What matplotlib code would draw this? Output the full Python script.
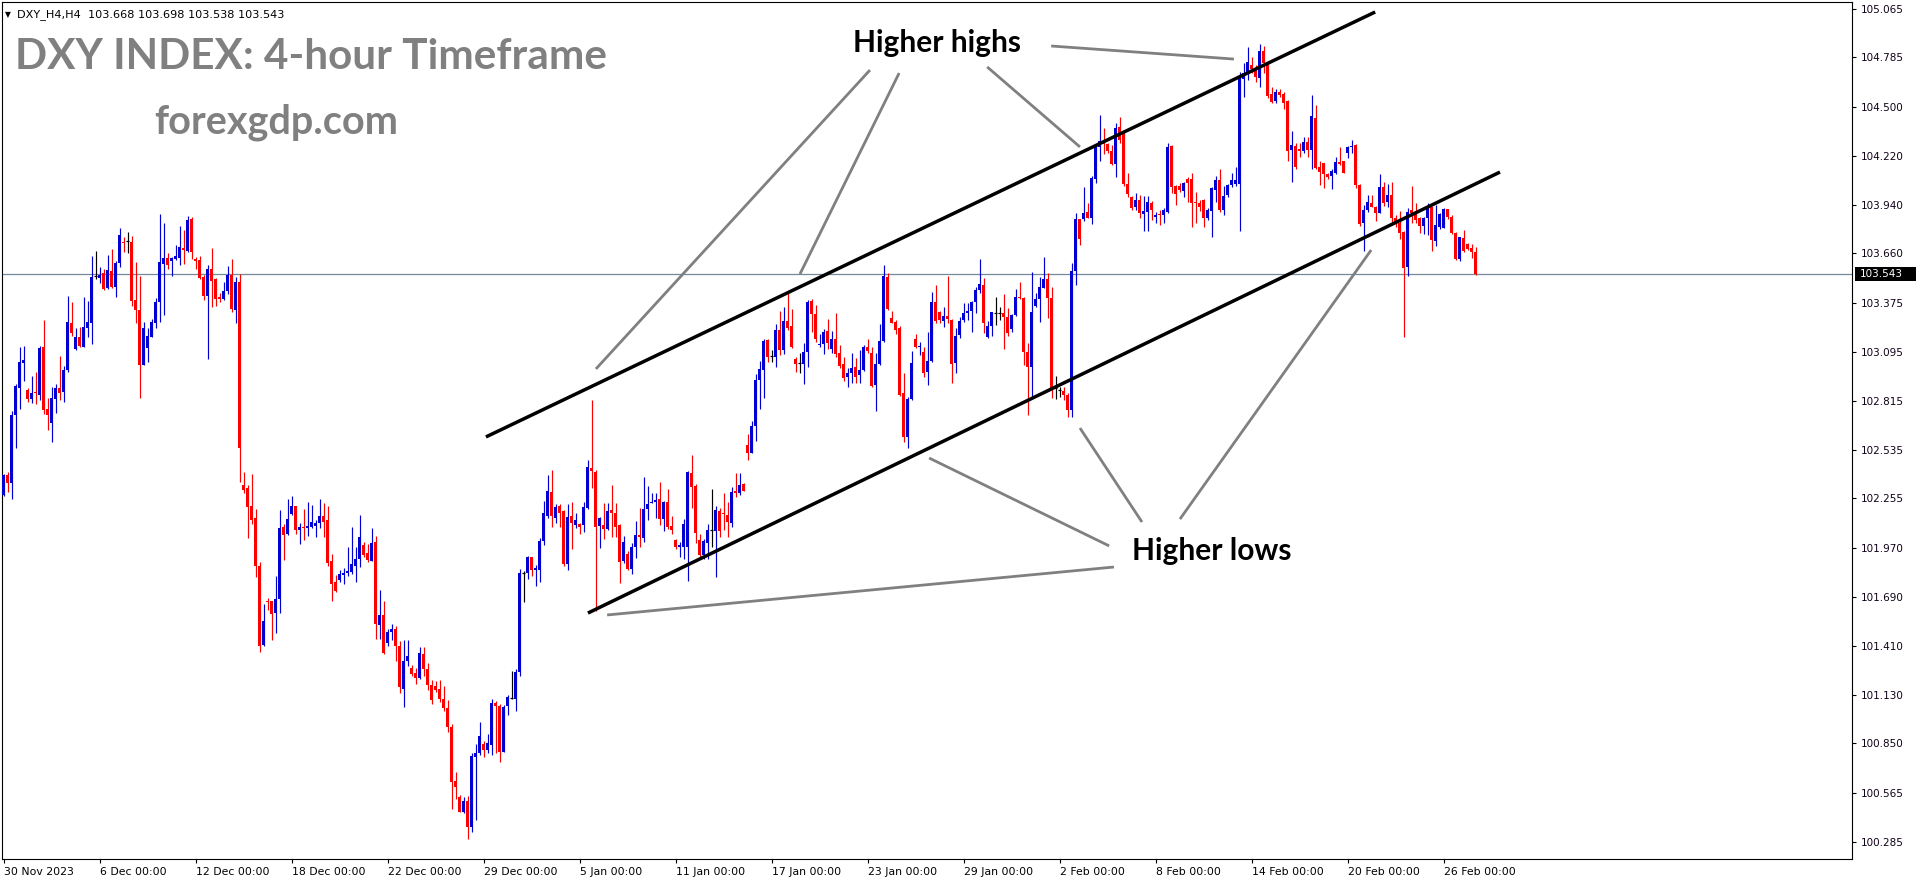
import numpy as np
import matplotlib.pyplot as plt
from matplotlib.patches import Rectangle

# DXY H4 candles (oldest first)
opens = [
    102.276, 102.388, 102.342, 102.734, 102.891, 103.034, 102.878, 102.826, 102.862, 102.849,
    103.124, 102.769, 102.690, 102.826, 102.889, 102.866, 102.992, 103.262, 103.113, 103.183,
    103.126, 103.235, 103.262, 103.529, 103.522, 103.548, 103.462, 103.560, 103.468, 103.608,
    103.726, 103.730, 103.726, 103.394, 103.336, 103.023, 103.118, 103.183, 103.262, 103.382,
    103.602, 103.634, 103.619, 103.629, 103.634, 103.692, 103.675, 103.858, 103.629, 103.623,
    103.526, 103.417, 103.571, 103.514, 103.411, 103.399, 103.445, 103.537, 103.336, 103.497,
    102.333, 102.316, 102.212, 102.144, 101.868, 101.415, 101.668, 101.668, 101.599, 101.679,
    102.092, 102.052, 102.167, 102.212, 102.075, 102.091, 102.083, 102.089, 102.097, 102.116,
    102.155, 102.132, 101.897, 101.776, 101.788, 101.819, 101.829, 101.833, 101.868, 101.907,
    101.989, 101.944, 101.899, 102.003, 101.532, 101.587, 101.424, 101.489, 101.507, 101.407,
    101.165, 101.323, 101.284, 101.257, 101.223, 101.364, 101.278, 101.188, 101.180, 101.165,
    101.106, 101.055, 100.946, 100.635, 100.545, 100.455, 100.520, 100.369, 100.772, 100.793,
    100.848, 100.813, 100.844, 101.084, 101.067, 100.803, 101.063, 101.112, 101.104, 101.258,
    101.827, 101.829, 101.919, 101.843, 101.847, 102.011, 102.155, 102.292, 102.144, 102.212,
    102.185, 101.882, 102.155, 102.104, 102.110, 102.104, 102.198, 102.431, 102.407, 102.098,
    102.103, 102.079, 102.189, 102.174, 102.103, 101.897, 101.937, 101.849, 101.974, 102.040,
    102.031, 102.195, 102.230, 102.235, 102.251, 102.140, 102.235, 102.100, 102.017, 101.975,
    101.979, 101.979, 102.402, 102.327, 102.017, 101.931, 102.000, 102.073, 102.071, 102.186,
    102.170, 102.159, 102.117, 102.300, 102.285, 102.337, 102.562, 102.518, 102.671, 102.935,
    102.992, 103.164, 103.070, 103.069, 103.222, 103.107, 103.273, 103.245, 103.057, 103.030,
    103.025, 103.097, 103.388, 103.313, 103.136, 103.139, 103.216, 103.115, 103.168, 103.088,
    103.025, 102.950, 102.977, 103.008, 102.965, 102.990, 103.122, 103.088, 102.904, 103.027,
    103.157, 103.527, 103.288, 103.269, 103.235, 102.858, 102.606, 102.826, 103.168, 103.126,
    103.097, 102.979, 103.044, 103.384, 103.325, 103.273, 103.304, 103.279, 103.030, 103.193,
    103.279, 103.317, 103.331, 103.380, 103.451, 103.478, 103.179, 103.245, 103.317, 103.317,
    103.317, 103.294, 103.225, 103.308, 103.413, 103.407, 103.097, 103.011, 103.359, 103.397,
    103.464, 103.512, 103.407, 102.887, 102.877, 102.874, 102.849, 102.763, 103.560, 103.856,
    103.856, 103.900, 103.866, 104.085, 104.273, 104.305, 104.286, 104.250, 104.173, 104.384,
    104.343, 104.057, 103.986, 103.929, 103.967, 103.887, 103.900, 103.952, 103.868, 103.887,
    103.881, 103.900, 104.277, 104.049, 104.047, 104.021, 104.085, 104.085, 103.957, 103.952,
    103.967, 103.866, 103.904, 104.024, 104.082, 103.910, 103.996, 104.051, 104.059, 104.059,
    104.659, 104.693, 104.743, 104.716, 104.665, 104.819, 104.756, 104.575, 104.535, 104.586,
    104.573, 104.535, 104.254, 104.277, 104.259, 104.250, 104.298, 104.254, 104.437, 104.158,
    104.177, 104.114, 104.106, 104.124, 104.185, 104.189, 104.238, 104.269, 104.282, 104.053,
    103.833, 103.910, 103.950, 103.929, 103.894, 104.043, 103.957, 103.998, 103.862, 103.833,
    103.785, 103.585, 103.910, 103.896, 103.862, 103.820, 103.862, 103.929, 103.732, 103.814,
    103.808, 103.913, 103.868, 103.780, 103.627, 103.751, 103.713, 103.690, 103.668,
]
highs = [
    102.395, 102.409, 102.759, 102.914, 103.126, 103.132, 102.887, 102.958, 102.981, 103.132,
    103.279, 102.832, 102.893, 102.912, 103.073, 103.017, 103.417, 103.382, 103.235, 103.239,
    103.411, 103.388, 103.646, 103.675, 103.583, 103.571, 103.652, 103.686, 103.615, 103.806,
    103.757, 103.784, 103.761, 103.613, 103.531, 103.268, 103.233, 103.285, 103.407, 103.887,
    103.835, 103.663, 103.638, 103.709, 103.818, 103.795, 103.875, 103.870, 103.640, 103.646,
    103.537, 103.594, 103.692, 103.518, 103.434, 103.497, 103.589, 103.629, 103.526, 103.543,
    102.407, 102.333, 102.396, 102.195, 101.891, 101.651, 101.685, 101.668, 101.811, 102.190,
    102.109, 102.253, 102.270, 102.212, 102.115, 102.196, 102.234, 102.218, 102.132, 102.253,
    102.228, 102.212, 101.938, 101.817, 101.845, 101.858, 101.976, 102.091, 101.976, 102.161,
    102.005, 101.995, 102.087, 102.040, 101.731, 101.667, 101.507, 101.536, 101.524, 101.438,
    101.444, 101.444, 101.301, 101.284, 101.401, 101.403, 101.311, 101.215, 101.208, 101.215,
    101.180, 101.100, 100.959, 100.686, 100.557, 100.541, 100.549, 100.793, 100.848, 100.973,
    100.862, 100.905, 101.106, 101.094, 101.079, 101.071, 101.126, 101.268, 101.278, 101.853,
    101.837, 101.927, 101.919, 101.874, 102.026, 102.243, 102.390, 102.419, 102.226, 102.224,
    102.190, 102.224, 102.234, 102.173, 102.114, 102.234, 102.476, 102.820, 102.419, 102.150,
    102.228, 102.228, 102.333, 102.228, 102.109, 102.042, 101.951, 101.998, 102.126, 102.199,
    102.377, 102.327, 102.285, 102.285, 102.350, 102.239, 102.310, 102.155, 102.023, 102.008,
    102.138, 102.415, 102.505, 102.339, 102.052, 102.021, 102.109, 102.312, 102.214, 102.203,
    102.285, 102.237, 102.319, 102.400, 102.400, 102.341, 102.625, 102.700, 102.969, 103.044,
    103.168, 103.168, 103.107, 103.256, 103.331, 103.355, 103.438, 103.340, 103.069, 103.092,
    103.149, 103.394, 103.397, 103.363, 103.199, 103.225, 103.285, 103.216, 103.321, 103.136,
    103.069, 103.002, 103.088, 103.059, 103.107, 103.134, 103.172, 103.126, 103.088, 103.256,
    103.594, 103.546, 103.332, 103.279, 103.245, 102.977, 102.839, 103.103, 103.199, 103.155,
    103.126, 103.212, 103.441, 103.480, 103.333, 103.355, 103.531, 103.283, 103.231, 103.298,
    103.375, 103.375, 103.388, 103.470, 103.627, 103.518, 103.275, 103.327, 103.413, 103.352,
    103.426, 103.346, 103.311, 103.455, 103.499, 103.413, 103.145, 103.556, 103.432, 103.527,
    103.642, 103.547, 103.470, 102.960, 102.897, 102.897, 102.858, 103.604, 103.894, 103.860,
    104.040, 103.948, 104.105, 104.282, 104.454, 104.382, 104.296, 104.282, 104.410, 104.441,
    104.368, 104.120, 103.990, 104.005, 103.996, 103.990, 103.990, 103.963, 103.900, 103.910,
    103.919, 104.292, 104.280, 104.053, 104.066, 104.072, 104.097, 104.124, 104.015, 103.967,
    103.971, 103.923, 104.043, 104.106, 104.145, 104.047, 104.059, 104.120, 104.158, 104.703,
    104.754, 104.842, 104.785, 104.739, 104.861, 104.850, 104.760, 104.617, 104.601, 104.601,
    104.586, 104.538, 104.363, 104.292, 104.296, 104.330, 104.330, 104.569, 104.512, 104.193,
    104.181, 104.120, 104.143, 104.212, 104.269, 104.193, 104.278, 104.311, 104.286, 104.057,
    103.938, 103.996, 103.996, 103.934, 104.116, 104.072, 104.057, 104.070, 103.881, 103.904,
    103.789, 103.919, 104.049, 103.948, 103.871, 103.871, 103.948, 103.932, 103.938, 103.890,
    103.919, 103.915, 103.881, 103.785, 103.757, 103.795, 103.719, 103.713, 103.698,
]
lows = [
    102.270, 102.295, 102.253, 102.547, 102.769, 102.929, 102.811, 102.801, 102.797, 102.820,
    102.742, 102.648, 102.581, 102.748, 102.818, 102.811, 102.983, 103.187, 103.107, 103.126,
    103.122, 103.183, 103.141, 103.516, 103.493, 103.451, 103.455, 103.462, 103.411, 103.585,
    103.669, 103.663, 103.359, 103.262, 102.832, 103.020, 103.038, 103.180, 103.235, 103.268,
    103.308, 103.571, 103.531, 103.623, 103.594, 103.600, 103.669, 103.629, 103.571, 103.514,
    103.394, 103.055, 103.354, 103.359, 103.382, 103.394, 103.428, 103.325, 103.262, 102.350,
    102.287, 102.029, 102.109, 101.805, 101.375, 101.410, 101.616, 101.444, 101.484, 101.599,
    101.903, 102.046, 102.161, 102.052, 101.995, 102.017, 102.040, 102.083, 102.036, 102.083,
    102.032, 101.866, 101.669, 101.718, 101.774, 101.767, 101.810, 101.823, 101.774, 101.862,
    101.917, 101.893, 101.895, 101.448, 101.452, 101.366, 101.411, 101.446, 101.325, 101.141,
    101.061, 101.294, 101.237, 101.192, 101.217, 101.237, 101.159, 101.077, 101.145, 101.090,
    101.036, 100.918, 100.477, 100.533, 100.455, 100.451, 100.301, 100.342, 100.414, 100.785,
    100.772, 100.797, 100.783, 100.793, 100.741, 100.801, 101.016, 101.106, 101.038, 101.237,
    101.663, 101.792, 101.813, 101.755, 101.776, 101.991, 102.144, 102.093, 102.114, 102.089,
    101.868, 101.847, 101.968, 102.083, 102.052, 102.062, 102.194, 102.316, 101.612, 101.970,
    102.023, 102.075, 102.037, 102.037, 101.773, 101.887, 101.845, 101.821, 101.912, 101.975,
    102.008, 102.132, 102.228, 102.142, 102.103, 102.071, 102.079, 102.050, 101.964, 101.922,
    101.907, 101.779, 102.199, 102.002, 101.922, 101.907, 101.907, 101.975, 101.803, 102.037,
    102.075, 102.037, 102.090, 102.266, 102.274, 102.296, 102.476, 102.514, 102.585, 102.771,
    102.830, 103.040, 103.040, 103.011, 103.078, 103.082, 103.222, 103.116, 102.983, 102.973,
    102.910, 103.011, 103.208, 103.155, 103.122, 103.084, 103.111, 103.088, 103.065, 103.002,
    102.931, 102.893, 102.916, 102.916, 102.916, 102.986, 103.088, 102.897, 102.759, 103.023,
    103.153, 103.336, 103.260, 103.197, 102.845, 102.581, 102.543, 102.820, 103.117, 103.078,
    102.954, 102.906, 103.040, 103.260, 103.260, 103.241, 103.264, 102.920, 102.973, 103.174,
    103.269, 103.279, 103.212, 103.321, 103.432, 103.202, 103.176, 103.187, 103.250, 103.279,
    103.111, 103.187, 103.212, 103.304, 103.397, 103.021, 102.734, 102.830, 103.355, 103.269,
    103.460, 103.289, 102.834, 102.826, 102.839, 102.820, 102.721, 102.721, 103.480, 103.709,
    103.848, 103.862, 103.829, 104.062, 104.193, 104.231, 104.234, 104.168, 104.101, 104.296,
    104.047, 103.986, 103.910, 103.910, 103.862, 103.791, 103.791, 103.852, 103.837, 103.824,
    103.837, 103.894, 104.005, 103.938, 104.015, 103.986, 103.957, 103.814, 103.837, 103.906,
    103.814, 103.852, 103.753, 103.957, 103.900, 103.881, 103.986, 104.043, 104.049, 103.791,
    104.559, 104.655, 104.697, 104.645, 104.617, 104.693, 104.550, 104.525, 104.525, 104.559,
    104.491, 104.193, 104.072, 104.143, 104.215, 104.238, 104.215, 104.143, 104.143, 104.053,
    104.038, 104.087, 104.028, 104.116, 104.168, 104.120, 104.210, 104.238, 104.038, 103.818,
    103.676, 103.900, 103.925, 103.848, 103.890, 103.933, 103.929, 103.833, 103.814, 103.743,
    103.179, 103.533, 103.837, 103.833, 103.780, 103.772, 103.766, 103.676, 103.703, 103.799,
    103.804, 103.856, 103.772, 103.623, 103.619, 103.671, 103.680, 103.633, 103.538,
]
closes = [
    102.390, 102.346, 102.734, 102.901, 103.038, 103.050, 102.826, 102.860, 102.858, 103.118,
    102.763, 102.734, 102.832, 102.891, 102.862, 102.992, 103.268, 103.206, 103.183, 103.132,
    103.239, 103.268, 103.526, 103.529, 103.537, 103.457, 103.566, 103.468, 103.608, 103.766,
    103.719, 103.730, 103.390, 103.336, 103.023, 103.233, 103.189, 103.268, 103.382, 103.612,
    103.634, 103.594, 103.634, 103.646, 103.697, 103.680, 103.852, 103.669, 103.619, 103.520,
    103.417, 103.571, 103.503, 103.399, 103.399, 103.445, 103.537, 103.342, 103.497, 102.545,
    102.304, 102.207, 102.132, 101.868, 101.410, 101.553, 101.662, 101.593, 101.679, 102.086,
    102.046, 102.138, 102.212, 102.075, 102.092, 102.083, 102.097, 102.120, 102.114, 102.155,
    102.122, 101.886, 101.765, 101.725, 101.823, 101.829, 101.837, 101.880, 101.909, 102.034,
    101.933, 101.905, 102.001, 101.538, 101.587, 101.370, 101.489, 101.507, 101.407, 101.176,
    101.323, 101.352, 101.251, 101.223, 101.368, 101.278, 101.186, 101.102, 101.155, 101.106,
    101.051, 100.946, 100.627, 100.602, 100.459, 100.518, 100.369, 100.778, 100.797, 100.893,
    100.811, 100.854, 101.084, 101.067, 100.801, 101.061, 101.116, 101.112, 101.260, 101.829,
    101.827, 101.921, 101.845, 101.854, 102.011, 102.169, 102.298, 102.155, 102.206, 102.173,
    101.878, 102.150, 102.112, 102.130, 102.091, 102.206, 102.435, 102.415, 102.093, 102.144,
    102.079, 102.184, 102.174, 102.094, 101.893, 102.004, 101.851, 101.975, 102.046, 102.037,
    102.195, 102.224, 102.237, 102.247, 102.140, 102.235, 102.090, 102.075, 101.975, 101.989,
    102.109, 102.407, 102.323, 102.056, 101.931, 102.012, 102.075, 102.073, 102.189, 102.071,
    102.165, 102.121, 102.293, 102.289, 102.335, 102.300, 102.518, 102.671, 102.935, 102.998,
    103.160, 103.069, 103.070, 103.222, 103.107, 103.273, 103.235, 103.122, 103.025, 103.030,
    103.095, 103.382, 103.313, 103.170, 103.141, 103.210, 103.145, 103.170, 103.084, 103.015,
    102.948, 102.977, 103.006, 102.954, 102.992, 103.122, 103.103, 102.902, 103.027, 103.160,
    103.531, 103.340, 103.264, 103.222, 102.849, 102.610, 102.826, 103.034, 103.126, 103.132,
    102.973, 103.044, 103.384, 103.273, 103.279, 103.304, 103.285, 103.025, 103.187, 103.273,
    103.317, 103.331, 103.384, 103.451, 103.485, 103.260, 103.245, 103.323, 103.317, 103.317,
    103.294, 103.202, 103.308, 103.413, 103.403, 103.097, 103.007, 103.325, 103.397, 103.466,
    103.512, 103.403, 102.881, 102.887, 102.877, 102.849, 102.763, 103.560, 103.856, 103.743,
    103.894, 103.866, 104.091, 104.273, 104.305, 104.288, 104.250, 104.173, 104.378, 104.311,
    104.057, 104.001, 103.923, 103.967, 103.894, 103.904, 103.954, 103.910, 103.881, 103.879,
    103.910, 104.269, 104.043, 104.001, 104.024, 104.062, 104.062, 103.952, 103.952, 103.929,
    103.866, 103.910, 104.036, 104.082, 103.910, 103.990, 104.051, 104.082, 104.082, 104.665,
    104.693, 104.756, 104.716, 104.674, 104.819, 104.754, 104.565, 104.531, 104.586, 104.567,
    104.525, 104.250, 104.280, 104.158, 104.246, 104.298, 104.254, 104.447, 104.152, 104.127,
    104.114, 104.101, 104.133, 104.185, 104.173, 104.124, 104.271, 104.277, 104.053, 103.829,
    103.910, 103.954, 103.929, 103.894, 104.040, 103.952, 103.998, 103.862, 103.833, 103.780,
    103.579, 103.900, 103.894, 103.852, 103.820, 103.862, 103.934, 103.737, 103.824, 103.887,
    103.913, 103.871, 103.780, 103.627, 103.753, 103.676, 103.686, 103.667, 103.543,
]

date_labels = ['30 Nov 2023', '6 Dec 00:00', '12 Dec 00:00', '18 Dec 00:00', '22 Dec 00:00',
               '29 Dec 00:00', '5 Jan 00:00', '11 Jan 00:00', '17 Jan 00:00', '23 Jan 00:00',
               '29 Jan 00:00', '2 Feb 00:00', '8 Feb 00:00', '14 Feb 00:00', '20 Feb 00:00',
               '26 Feb 00:00']
bars_per_label = 24
price_ticks = [105.065, 104.785, 104.500, 104.220, 103.940, 103.660, 103.375, 103.095, 102.815,
               102.535, 102.255, 101.970, 101.690, 101.410, 101.130, 100.850, 100.565, 100.285]

# trend channel (bar index, price)
upper_x = [120.6, 342.9]
upper_y = [102.608, 105.045]
lower_x = [146.1, 374.1]
lower_y = [101.598, 104.127]

# pointer lines from the labels
hh_x = [[148.1, 216.6], [199.1, 223.9], [245.9, 269.1], [261.9, 307.6]]
hh_y = [[102.998, 104.712], [103.542, 104.695], [104.730, 104.271], [104.850, 104.775]]
hl_x = [[150.9, 277.6], [231.4, 276.4], [269.1, 284.6], [294.1, 341.9]]
hl_y = [[101.587, 101.862], [102.487, 101.983], [102.659, 102.120], [102.137, 103.680]]

W, H = 1916, 884
fig = plt.figure(figsize=(W / 100, H / 100), dpi=100)
ax = fig.add_axes([2 / W, 25 / H, 1850 / W, 857 / H])

o = np.array(opens)
h = np.array(highs)
l = np.array(lows)
c = np.array(closes)
x = np.arange(len(o))

BLUE = '#0000d2'
RED = '#ff0000'
col = np.where(c > o, BLUE, np.where(c < o, RED, '#000000'))
doji = c == o

ax.vlines(x, l, h, colors=col, linewidth=0.85, zorder=2)
body_lo = np.minimum(o, c)
body_h = np.maximum(np.abs(c - o), 0.006)
ax.bar(x[~doji], body_h[~doji], bottom=body_lo[~doji], width=0.75,
       color=col[~doji], linewidth=0, zorder=3)
ax.hlines(o[doji], x[doji] - 0.45, x[doji] + 0.45, colors='black', linewidth=0.85, zorder=3)

# bid line
ax.axhline(closes[-1], color='#778899', linewidth=0.9, zorder=1)

# channel and pointers
ax.plot(upper_x, upper_y, color='black', linewidth=2.5, zorder=4, solid_capstyle='butt')
ax.plot(lower_x, lower_y, color='black', linewidth=2.5, zorder=4, solid_capstyle='butt')
for xs, ys in zip(hh_x + hl_x, hh_y + hl_y):
    ax.plot(xs, ys, color='#808080', linewidth=2.0, zorder=4, solid_capstyle='butt')

ax.text(233.4, 104.867, 'Higher highs', fontsize=21.5, fontweight='bold', family='Lato',
        ha='center', va='center', color='black', zorder=5)
ax.text(302.1, 101.954, 'Higher lows', fontsize=21.5, fontweight='bold', family='Lato',
        ha='center', va='center', color='black', zorder=5)

ax.set_xlim(-0.375, 462.1)
ax.set_ylim(100.1875, 105.1023)

# axes styling like the terminal
ax.yaxis.tick_right()
ax.set_yticks(price_ticks)
ax.set_yticklabels([f'{p:.3f}' for p in price_ticks])
ax.tick_params(axis='y', direction='out', length=3, width=0.8, pad=3, labelsize=7.5,
               labelcolor='#100018')
ax.set_xticks([k * bars_per_label for k in range(len(date_labels))])
ax.set_xticklabels(date_labels)
ax.tick_params(axis='x', direction='out', length=3, width=0.8, pad=3, labelsize=7.8)
for lab in ax.get_xticklabels():
    lab.set_ha('left')
for sp in ax.spines.values():
    sp.set_linewidth(0.8)
    sp.set_color('black')

# current price tag on the scale
y_pix = ax.transData.transform((0, closes[-1]))[1]
fig.patches.append(Rectangle((1855 / W, (y_pix - 7) / H), 61 / W, 14 / H,
                             transform=fig.transFigure, facecolor='black', edgecolor='none'))
fig.text(1860 / W, y_pix / H, f'{closes[-1]:.3f}', color='white', fontsize=7.5,
         ha='left', va='center')

# header and watermark texts
fig.text(5 / W, 1 - 15 / H, '\u25bc', fontsize=5.5, ha='left', va='center')
fig.text(17 / W, 1 - 15 / H,
         f'DXY_H4,H4  {opens[-1]:.3f} {highs[-1]:.3f} {lows[-1]:.3f} {closes[-1]:.3f}',
         fontsize=8.1, ha='left', va='center')
fig.text(15 / W, 1 - 57 / H, 'DXY INDEX: 4-hour Timeframe', fontsize=30.4, fontweight='bold',
         family='Lato', color='#808080', ha='left', va='center')
fig.text(276 / W, 1 - 122 / H, 'forexgdp.com', fontsize=28.5, fontweight='bold',
         family='Lato', color='#808080', ha='center', va='center')

fig.savefig('out.png', dpi=100)
